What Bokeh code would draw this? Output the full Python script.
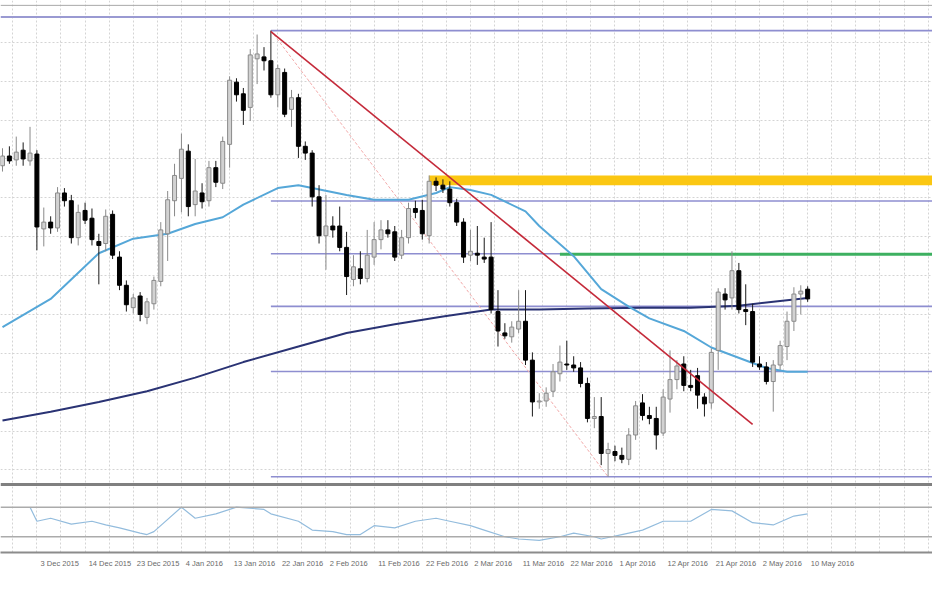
from bokeh.plotting import figure
from bokeh.models import Range1d, FixedTicker, Span
from bokeh.layouts import column
from bokeh.embed import file_html
from bokeh.resources import INLINE

# ---------------- data (daily candles, price in chart points) ----------------
bars = list(range(118))
open_ = [330, 340, 336, 346, 335, 342, 265, 272, 266, 302, 294, 256, 284, 276, 252, 250, 280, 236, 207, 184,
         196, 174, 188, 211, 260, 294, 317, 345, 290, 302, 294, 328, 312, 352, 416, 404, 390, 440, 442, 438,
         403, 426, 388, 400, 350, 343, 298, 258, 268, 268, 246, 213, 224, 214, 236, 254, 264, 262, 238, 256,
         286, 284, 258, 314, 310, 306, 292, 272, 238, 240, 236, 236, 180, 158, 154, 162, 170, 130, 87, 88,
         98, 116, 126, 125, 122, 106, 70, 72, 34, 36, 32, 28, 53, 86, 73, 70, 55, 90, 110, 126,
         104, 114, 92, 86, 140, 198, 194, 222, 182, 180, 126, 123, 108, 125, 144, 170, 198, 203]
high = [348, 350, 360, 354, 370, 346, 287, 278, 308, 307, 300, 290, 292, 286, 260, 285, 284, 242, 212, 198,
        200, 194, 216, 272, 304, 332, 363, 352, 337, 312, 335, 335, 360, 422, 420, 410, 450, 465, 452, 469,
        434, 430, 408, 404, 355, 346, 310, 300, 278, 288, 262, 238, 242, 264, 272, 274, 274, 268, 264, 292,
        294, 295, 320, 318, 316, 314, 296, 276, 264, 268, 256, 272, 202, 168, 170, 202, 202, 138, 96, 102,
        126, 145, 150, 134, 128, 112, 92, 92, 45, 42, 40, 60, 88, 95, 82, 82, 100, 140, 130, 134,
        120, 122, 96, 142, 204, 204, 242, 230, 208, 188, 134, 128, 130, 150, 180, 205, 207, 206]
low = [324, 332, 330, 330, 330, 243, 247, 260, 262, 288, 250, 248, 270, 248, 208, 242, 234, 202, 180, 178,
       170, 167, 182, 206, 232, 278, 282, 278, 278, 286, 288, 308, 306, 328, 396, 372, 376, 414, 428, 400,
       390, 380, 370, 338, 336, 288, 250, 223, 256, 242, 197, 206, 208, 210, 228, 244, 256, 232, 234, 250,
       276, 254, 250, 304, 302, 288, 268, 230, 232, 228, 230, 178, 144, 152, 148, 158, 125, 72, 80, 82,
       92, 108, 120, 118, 102, 66, 60, 22, 10, 26, 24, 22, 48, 68, 64, 38, 52, 76, 100, 98,
       98, 80, 72, 80, 120, 182, 182, 178, 166, 123, 120, 105, 77, 120, 130, 160, 177, 190]
close = [340, 335, 344, 337, 343, 267, 272, 266, 302, 294, 256, 282, 274, 254, 248, 278, 238, 207, 187, 194,
         177, 190, 212, 264, 295, 320, 347, 288, 304, 293, 328, 313, 355, 418, 403, 387, 444, 445, 438, 403,
         430, 383, 400, 350, 343, 298, 258, 268, 264, 246, 216, 226, 214, 238, 254, 264, 260, 236, 256, 286,
         282, 260, 314, 310, 306, 292, 272, 236, 242, 238, 234, 182, 160, 155, 164, 170, 130, 87, 88, 96,
         118, 128, 125, 122, 106, 70, 72, 34, 38, 32, 28, 53, 83, 73, 70, 53, 92, 110, 124, 104,
         102, 94, 85, 138, 200, 192, 222, 182, 180, 128, 123, 108, 125, 145, 170, 198, 201, 193]

ma50_bar = [0, 7, 14, 19, 24, 28, 32, 35, 40, 43, 45, 50, 54, 59, 63, 65, 68, 71, 76, 78,
            83, 87, 91, 94, 99, 103, 109, 111, 114, 117]
ma50_val = [164, 193, 240, 255, 260, 270, 277, 290, 307, 310, 307, 300, 295, 295, 302, 308, 305, 300, 283, 268,
            237, 203, 185, 173, 160, 143, 127, 122, 118, 118]
ma200_bar = [0, 7, 14, 21, 28, 35, 43, 50, 57, 64, 71, 78, 85, 93, 100, 107, 112, 117]
ma200_val = [68, 77, 87, 98, 112, 128, 144, 158, 167, 175, 182, 182, 183, 184, 184, 186, 190, 194]

osc_bar = [4, 5, 7, 10, 13, 15, 17, 20, 21, 22, 26, 28, 31, 34, 38, 39, 43, 45, 48, 50,
           52, 54, 57, 60, 63, 65, 68, 70, 73, 75, 78, 81, 83, 86, 87, 90, 93, 96, 100, 103,
           106, 109, 112, 115, 117]
osc_val = [70, 51, 55, 47, 51, 46, 42, 35, 33, 37, 70, 55, 61, 70, 67, 61, 51, 39, 37, 33,
           33, 45, 42, 51, 55, 51, 45, 39, 30, 27, 25, 30, 35, 30, 27, 33, 39, 51, 51, 67,
           65, 49, 46, 58, 61]
osc_levels = [70, 30]

trend_bar = [39, 109]
trend_val = [468, 64]
zone_start_bar = 62
zone_low, zone_high = 310, 320
green_start_bar = 81
green_level = 239
fib_ratios = [0.0, 0.236, 0.382, 0.5, 0.618, 1.0]

label_bars = [5, 12, 19, 26, 33, 40, 47, 54, 61, 68, 75, 82, 89, 96, 103, 110, 117]
label_text = ["3 Dec 2015", "14 Dec 2015", "23 Dec 2015", "4 Jan 2016", "13 Jan 2016",
              "22 Jan 2016", "2 Feb 2016", "11 Feb 2016", "22 Feb 2016", "2 Mar 2016", "11 Mar 2016",
              "22 Mar 2016", "1 Apr 2016", "12 Apr 2016", "21 Apr 2016", "2 May 2016", "10 May 2016"]

# ---------------- layout ----------------
W = 932
H_MAIN = 486
H_OSC = 91
X0, X1 = -0.29, 135.14
PX_PER_BAR = W / (X1 - X0)
FONT_PX = 7.5
grid_x = [1.5 + 3.5 * k for k in range(40)]
grid_y = [17 + 40 * k for k in range(12)]
GRID = "#D4D4D4"

main = figure(width=W, height=H_MAIN, x_range=Range1d(X0, X1), y_range=Range1d(0, 500),
              output_backend="svg", toolbar_location=None,
              x_axis_location=None, y_axis_location=None, min_border=0)
main.outline_line_color = None
main.xgrid.ticker = FixedTicker(ticks=grid_x)
main.ygrid.ticker = FixedTicker(ticks=grid_y)
for g in (main.xgrid, main.ygrid):
    g.grid_line_color = GRID
    g.grid_line_dash = "2 2"

# chart frame lines at top / panel separator
main.add_layout(Span(location=495, dimension="width", line_color="#A8A8A8", line_width=1))
main.add_layout(Span(location=483, dimension="width", line_color="#9A9AD2", line_width=2))
main.add_layout(Span(location=2, dimension="width", line_color="#808080", line_width=3))

# resistance zone
main.quad(left=[zone_start_bar], right=[X1], bottom=[zone_low], top=[zone_high],
          fill_color="#FBC712", line_color=None)

# fibonacci retracement from swing high to swing low
i_hi = high.index(max(high))
i_lo = low.index(min(low))
hi, lo = high[i_hi], low[i_lo]
levels = [lo + r * (hi - lo) for r in fib_ratios]
main.segment(x0=[i_hi] * len(levels), x1=[X1] * len(levels), y0=levels, y1=levels,
             line_color="#8E8ED0", line_width=1.6)
main.line([i_hi, i_lo], [hi, lo], line_color="#F2A9A9", line_width=1, line_dash="3 2")

# green level
main.segment(x0=[green_start_bar], x1=[X1], y0=[green_level], y1=[green_level],
             line_color="#3DB060", line_width=3)

# moving averages
main.line(ma200_bar, ma200_val, line_color="#2A3374", line_width=2)
main.line(ma50_bar, ma50_val, line_color="#55A7D8", line_width=2)

# candles
top = [max(o, c) for o, c in zip(open_, close)]
bot = [min(o, c) for o, c in zip(open_, close)]
bull = [c >= o for o, c in zip(open_, close)]
fill = ["#D2D2D2" if b else "#000000" for b in bull]
edge = ["#8A8A8A" if b else "#000000" for b in bull]
wick = ["#8A8A8A" if b else "#1A1A1A" for b in bull]
main.segment(x0=bars, x1=bars, y0=low, y1=high, line_color=wick, line_width=1)
main.vbar(x=bars, width=0.58, top=top, bottom=bot, fill_color=fill, line_color=edge, line_width=1)

# down trend line
main.line(trend_bar, trend_val, line_color="#C42A3A", line_width=1.6)

# ---------------- oscillator panel ----------------
osc = figure(width=W, height=H_OSC, x_range=main.x_range, y_range=Range1d(8.7, 98),
             output_backend="svg", toolbar_location=None, y_axis_location=None,
             min_border=0, min_border_bottom=25)
osc.outline_line_color = None
osc.ygrid.visible = False
osc.xgrid.ticker = FixedTicker(ticks=grid_x)
osc.xgrid.grid_line_color = GRID
osc.xgrid.grid_line_dash = "2 2"
for lv in osc_levels:
    osc.add_layout(Span(location=lv, dimension="width", line_color="#ABABAB", line_width=1.5))
osc.line(osc_bar, osc_val, line_color="#93BCDD", line_width=1.2)

# date labels start just right of their bar (MetaTrader style): shift the label anchor
label_pos = [round(b + (len(t) * 0.53 * FONT_PX / 2 + 3) / PX_PER_BAR, 2)
             for b, t in zip(label_bars, label_text)]
ax = osc.xaxis[0]
ax.ticker = FixedTicker(ticks=label_pos)
ax.major_label_overrides = {p: t for p, t in zip(label_pos, label_text)}
ax.major_label_text_font = "Liberation Sans"
ax.major_label_text_font_size = f"{FONT_PX}px"
ax.major_label_text_color = "#6A6A6A"
ax.major_label_standoff = 6
ax.axis_line_color = "#8C8C8C"
ax.axis_line_width = 2
ax.major_tick_line_color = None
ax.major_tick_in = 0
ax.major_tick_out = 0
ax.minor_tick_line_color = None

layout = column(main, osc, spacing=0)
open("out.html", "w").write(file_html(layout, INLINE))
